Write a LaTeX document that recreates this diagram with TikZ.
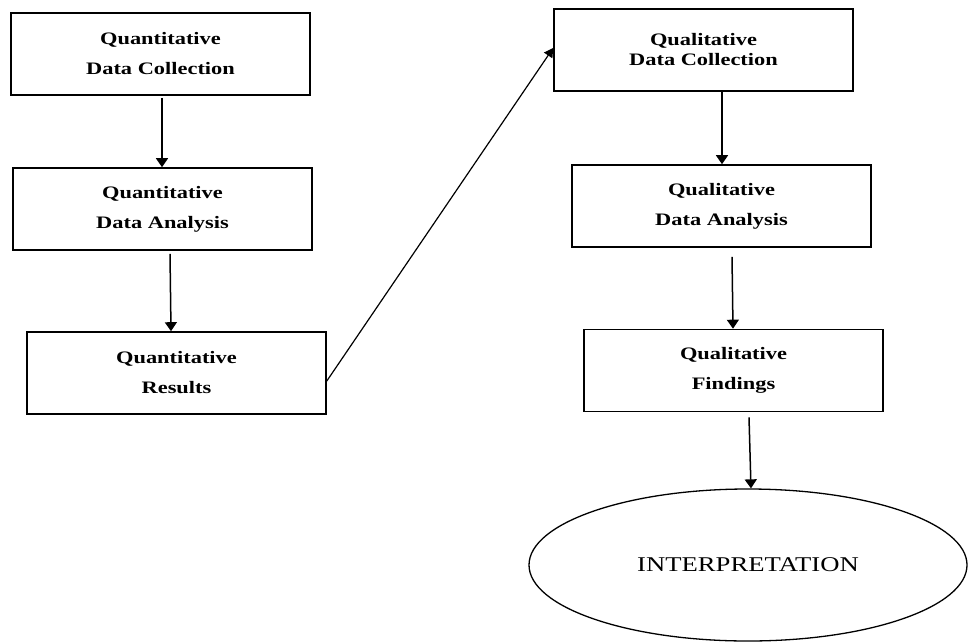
\documentclass[tikz,border=0pt]{standalone}
\usepackage{fontspec}
\setmainfont{Liberation Serif}
\newfontfamily\stepfont[FakeStretch=1.28]{Liberation Serif}
\newfontfamily\endfont[FakeStretch=1.27]{Liberation Serif}
\usetikzlibrary{arrows.meta,shapes.geometric}
\tikzset{
  stage/.style={draw, line width=1.6pt, minimum width=299pt, minimum height=82pt,
    inner sep=0pt, align=center, font=\stepfont\bfseries\fontsize{17.5}{30}\selectfont},
  link/.style={line width=1.5pt, -{Triangle[width=12pt,length=9pt]}},
}
\begin{document}
\begin{tikzpicture}[x=1pt,y=-1pt]
\useasboundingbox (0,0) rectangle (968,642);
% quantitative strand
\node[stage] (b1) at (160.5,54) {Quantitative\\Data Collection};
\node[stage] (b2) at (162.5,209) {Quantitative\\Data Analysis};
\node[stage] (b3) at (176.5,373) {Quantitative\\Results};
% qualitative strand
\node[stage, font=\stepfont\bfseries\fontsize{17.5}{20}\selectfont] (b4) at (703.5,50) {Qualitative\\Data Collection};
\node[stage] (b5) at (721.5,206) {Qualitative\\Data Analysis};
\node[stage] (b6) at (733.5,370.5) {Qualitative\\Findings};
% final step
\node[draw, ellipse, line width=1.3pt, minimum width=438pt, minimum height=152pt,
  inner sep=0pt, font=\endfont\fontsize{21}{24}\selectfont] (end) at (748,565) {INTERPRETATION};
% connectors
\draw[link] ([shift={(1.5,2)}]b1.south) -- ([xshift=-0.5]b2.north);
\draw[link] ([shift={(7.5,3)}]b2.south) -- ([xshift=-5.5]b3.north);
\draw[link, line width=1.2pt, -{Triangle[width=10pt,length=9pt]}] ([yshift=-8]b3.east) -- ([yshift=2]b4.west);
\draw[link] ([xshift=18.5]b4.south) -- ([xshift=0.5]b5.north);
\draw[link] ([shift={(10.5,9)}]b5.south) -- ([xshift=-0.5]b6.north);
\draw[link] ([shift={(15.5,5)}]b6.south) -- ([xshift=3]end.north);
\end{tikzpicture}
\end{document}
